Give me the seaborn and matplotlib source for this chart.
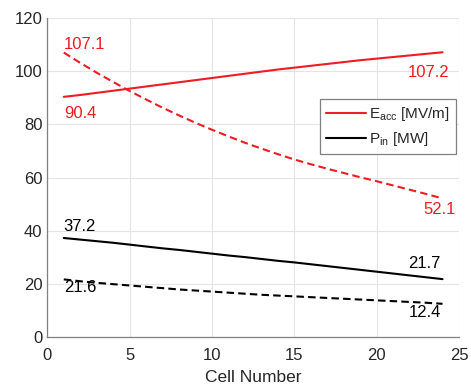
import matplotlib.pyplot as plt
import pandas as pd
import seaborn as sns

# valores (celulas 1..24)
celulas = list(range(1, 25))
eacc_solido = [90.4, 91.1, 91.9, 92.7, 93.5, 94.3, 95.1, 95.9, 96.7, 97.5, 98.3, 99.1,
               99.9, 100.7, 101.4, 102.1, 102.8, 103.5, 104.2, 104.8, 105.4, 106.0, 106.6, 107.2]
eacc_tracejado = [107.1, 103.2, 99.5, 96.0, 92.6, 89.4, 86.3, 83.4, 80.6, 78.0, 75.5, 73.1,
                  70.9, 68.8, 66.8, 65.0, 63.3, 61.7, 60.1, 58.6, 57.0, 55.4, 53.8, 52.1]
pin_solido = [37.2, 36.6, 36.0, 35.4, 34.7, 34.0, 33.3, 32.7, 32.0, 31.3, 30.6, 30.0,
              29.3, 28.6, 28.0, 27.3, 26.6, 25.9, 25.2, 24.5, 23.8, 23.1, 22.4, 21.7]
pin_tracejado = [21.6, 20.9, 20.3, 19.8, 19.3, 18.8, 18.3, 17.8, 17.4, 17.0, 16.6, 16.2,
                 15.8, 15.5, 15.2, 14.9, 14.6, 14.3, 14.0, 13.7, 13.4, 13.1, 12.8, 12.4]

vermelho = '#ee1c23'

sns.set_style('white')
plt.rcParams['font.family'] = ['Liberation Sans', 'DejaVu Sans']

partes = []
for nome, caso, vals in [('Eacc', 'solido', eacc_solido), ('Eacc', 'tracejado', eacc_tracejado),
                         ('Pin', 'solido', pin_solido), ('Pin', 'tracejado', pin_tracejado)]:
    partes.append(pd.DataFrame({'Cell': celulas, 'Valor': vals, 'Serie': nome, 'Caso': caso}))
df = pd.concat(partes, ignore_index=True)

fig = plt.figure(figsize=(4.71, 3.84), dpi=100)
ax = fig.add_axes([47.3 / 471, (384 - 336.7) / 384, (459 - 47.3) / 471, (336.7 - 18.3) / 384])

sns.lineplot(data=df, x='Cell', y='Valor', hue='Serie', style='Caso',
             palette={'Eacc': vermelho, 'Pin': 'black'},
             dashes={'solido': '', 'tracejado': (3.6, 2.0)},
             linewidth=1.5, legend=False, ax=ax)

ax.set_xlim(0, 25)
ax.set_ylim(0, 120)
ax.set_xticks([0, 5, 10, 15, 20, 25])
ax.set_yticks([0, 20, 40, 60, 80, 100, 120])
ax.grid(True, color='#e4e4e4', linewidth=0.8)
ax.tick_params(direction='in', length=4, labelsize=12, colors='#262626', width=0.8)
ax.tick_params(axis='x', pad=8)
for s in ['top', 'right']:
    ax.spines[s].set_visible(False)
for s in ['left', 'bottom']:
    ax.spines[s].set_color('#808080')
    ax.spines[s].set_linewidth(0.9)
ax.set_xlabel('Cell Number', fontsize=12.5, color='#262626', labelpad=5)
ax.set_ylabel('')

# rotulos dos valores nas pontas
ax.text(1, 110.3, f'{eacc_tracejado[0]}', color=vermelho, fontsize=12, ha='left', va='center')
ax.text(1, 84.0, f'{eacc_solido[0]}', color=vermelho, fontsize=12, ha='left', va='center')
ax.text(24.4, 99.7, f'{eacc_solido[-1]}', color=vermelho, fontsize=12, ha='right', va='center')
ax.text(24.8, 48.1, f'{eacc_tracejado[-1]}', color=vermelho, fontsize=12, ha='right', va='center')
ax.text(1, 41.7, f'{pin_solido[0]}', color='black', fontsize=12, ha='left', va='center')
ax.text(1, 18.6, f'{pin_tracejado[0]}', color='black', fontsize=12, ha='left', va='center')
ax.text(23.9, 27.7, f'{pin_solido[-1]}', color='black', fontsize=12, ha='right', va='center')
ax.text(23.9, 9.2, f'{pin_tracejado[-1]}', color='black', fontsize=12, ha='right', va='center')

handles = [plt.Line2D([], [], color=vermelho, linewidth=1.5),
           plt.Line2D([], [], color='black', linewidth=1.5)]
leg = ax.legend(handles, [r'E$_{\mathregular{acc}}$ [MV/m]', r'P$_{\mathregular{in}}$ [MW]'],
                loc='upper right', bbox_to_anchor=(0.9927, 0.7466), borderaxespad=0,
                fontsize=11, handlelength=2.6, handletextpad=0.2, borderpad=0.4,
                labelspacing=0.45, fancybox=False, framealpha=1, edgecolor='#808080')
leg.get_frame().set_linewidth(0.9)

plt.savefig('out.png', dpi=100)
plt.close()
